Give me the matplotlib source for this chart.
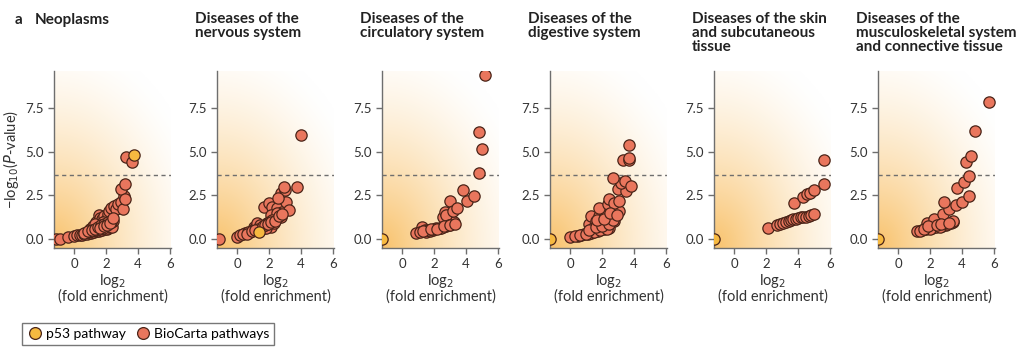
import numpy as np
import matplotlib
matplotlib.use('Agg')
import matplotlib.pyplot as plt
from matplotlib.lines import Line2D

plt.rcParams['font.family'] = ['Lato', 'DejaVu Sans']

# Panel titles
TITLES = ['Neoplasms',
          'Diseases of the\nnervous system',
          'Diseases of the\ncirculatory system',
          'Diseases of the\ndigestive system',
          'Diseases of the skin\nand subcutaneous\ntissue',
          'Diseases of the\nmusculoskeletal system\nand connective tissue']

# BioCarta pathways, log2(fold enrichment) and -log10(P) per panel
neo_x = [-1.1, -0.9, -0.35, 0.0, 0.2, 0.35, 0.5, 0.65, 0.8, 0.95, 1.05, 1.15, 1.25, 1.35,
         1.45, 1.55, 1.65, 1.75, 1.85, 1.95, 2.05, 2.15, 2.25, 2.35,
         1.0, 1.2, 1.4, 1.55, 1.6, 1.75, 1.9, 2.0, 2.1, 2.2, 2.3, 2.5, 2.6, 2.75, 2.9,
         3.05, 3.1, 2.95, 3.15, 3.25, 3.6, 3.2, 1.3, 1.8, 2.4,
         0.6, 0.9, 1.1, 1.3, 1.5, 1.7, 1.9, 2.1, 2.3, 1.6, 1.85, 2.05, 2.25, 2.45]
neo_y = [0.0, 0.02, 0.1, 0.15, 0.2, 0.22, 0.25, 0.28, 0.3, 0.33, 0.36, 0.38, 0.4, 0.43,
         0.45, 0.48, 0.5, 0.52, 0.55, 0.58, 0.6, 0.63, 0.66, 0.7,
         0.6, 0.75, 1.0, 1.4, 1.2, 1.15, 1.3, 1.1, 1.45, 1.6, 1.75, 1.9, 1.7, 2.0, 2.1,
         1.7, 2.45, 2.85, 3.15, 4.7, 4.4, 2.3, 0.85, 0.95, 1.05,
         0.35, 0.45, 0.5, 0.6, 0.7, 0.8, 0.85, 0.95, 1.0, 0.65, 0.75, 0.8, 0.9, 1.2]

nerv_x = [-1.15, 0.0, 0.21, 0.52, 0.84, 1.05, 1.15, 1.26, 1.46, 1.67, 1.88, 2.09, 2.3, 2.5,
          2.72, 1.67, 1.99, 2.2, 2.5, 2.82, 2.09, 2.5, 2.72, 2.99, 3.03, 3.24, 2.55, 2.93,
          3.77, 3.97, 0.4, 0.7, 1.3, 1.8, 2.0, 2.2,
          0.6, 0.95, 1.1, 1.6, 1.75, 1.95, 2.15, 2.35, 2.6, 2.8]
nerv_y = [0.0, 0.13, 0.23, 0.33, 0.42, 0.71, 0.61, 0.9, 0.8, 0.61, 0.9, 0.71, 0.9, 1.19,
          1.28, 1.85, 2.05, 1.85, 1.76, 1.57, 1.38, 1.5, 2.62, 2.8, 2.14, 1.66, 2.33, 3.0,
          2.98, 5.97, 0.28, 0.38, 0.55, 0.65, 0.95, 1.1,
          0.3, 0.45, 0.5, 0.75, 0.8, 0.85, 1.0, 1.05, 1.3, 1.45]

circ_x = [0.89, 1.26, 1.41, 1.51, 1.72, 1.93, 2.13, 2.34, 2.55, 2.75, 2.96, 3.17, 3.06,
          3.27, 2.55, 2.65, 2.75, 3.02, 3.17, 3.42, 3.79, 4.04, 4.51, 4.78, 4.99, 4.82, 5.18,
          1.1, 1.6, 2.0, 2.4, 2.9, 1.3, 1.8, 2.2, 2.6, 3.0, 3.3]
circ_y = [0.32, 0.67, 0.51, 0.42, 0.46, 0.51, 0.61, 0.61, 0.7, 0.76, 0.84, 0.9, 0.9,
          0.99, 1.28, 1.52, 1.37, 2.17, 1.6, 1.75, 2.84, 2.17, 2.46, 3.81, 5.18, 6.13, 9.43,
          0.42, 0.5, 0.55, 0.65, 0.8, 0.45, 0.55, 0.6, 0.72, 0.82, 0.88]

dig_x = [0.02, 0.48, 0.9, 1.31, 1.73, 2.15, 2.46, 1.21, 1.42, 1.94, 2.25, 1.31, 1.63, 1.83,
         2.15, 2.35, 2.56, 2.77, 2.04, 1.83, 2.56, 3.08, 2.35, 2.46, 2.77, 3.08, 2.98, 3.5,
         3.19, 3.4, 3.81, 2.67, 3.29, 3.65, 3.71, 3.65, 0.7, 1.1, 1.5, 1.9, 2.3,
         0.3, 0.6, 1.0, 1.2, 1.6, 2.0, 2.4, 2.7, 1.7, 2.1, 2.5, 2.9]
dig_y = [0.13, 0.17, 0.27, 0.36, 0.46, 0.55, 0.65, 0.84, 0.65, 0.88, 0.94, 1.32, 1.03, 1.32,
         1.22, 1.41, 1.22, 1.03, 1.7, 1.8, 1.8, 1.61, 1.99, 2.28, 2.08, 2.18, 2.85, 2.75,
         3.23, 3.33, 3.04, 3.52, 4.51, 4.51, 4.67, 5.39, 0.22, 0.31, 0.41, 0.5, 0.6,
         0.15, 0.2, 0.3, 0.5, 0.7, 0.75, 0.85, 1.1, 1.1, 1.15, 1.5, 1.4]

skin_x = [2.15, 2.67, 2.88, 3.08, 3.25, 3.4, 3.56, 3.71, 3.88, 4.02, 4.17, 4.33, 4.5,
          4.65, 4.79, 4.96, 3.77, 4.33, 4.54, 4.75, 5.0, 5.63, 5.63]
skin_y = [0.65, 0.8, 0.88, 0.94, 0.98, 1.03, 1.09, 1.13, 1.15, 1.19, 1.24, 1.26, 1.28,
          1.32, 1.36, 1.45, 2.05, 2.41, 2.6, 2.66, 2.79, 3.17, 4.55]

musc_x = [1.17, 1.52, 1.73, 1.94, 2.15, 2.35, 2.56, 2.77, 2.98, 3.08, 3.29, 3.4, 3.46,
          1.79, 2.25, 2.83, 3.19, 2.88, 3.6, 3.96, 4.4, 3.67, 4.13, 4.44, 4.27, 4.54, 4.81,
          5.69, 1.35, 2.0, 2.6, 1.6, 1.85, 2.45, 2.7, 3.2]
musc_y = [0.46, 0.5, 0.55, 0.61, 0.65, 0.69, 0.72, 0.76, 0.8, 0.84, 0.93, 0.97, 1.03,
          0.93, 1.12, 1.41, 1.7, 2.13, 1.94, 2.13, 2.46, 2.93, 3.28, 3.6, 4.4, 4.74, 6.23,
          7.85, 0.48, 0.58, 0.68, 0.6, 0.75, 0.8, 0.85, 0.9]

PATHWAYS_X = [neo_x, nerv_x, circ_x, dig_x, skin_x, musc_x]
PATHWAYS_Y = [neo_y, nerv_y, circ_y, dig_y, skin_y, musc_y]

# p53 pathway per panel
P53_X = [3.75, 1.36, -1.25, -1.25, -1.25, -1.25]
P53_Y = [4.83, 0.42, 0.0, 0.0, 0.0, 0.0]

THRESHOLD = 3.65

RED = '#E9765D'
YELLOW = '#F6B940'
EDGE = '#4A2418'
GREY = '#6E6E6E'

fig = plt.figure(figsize=(10.24, 3.6), dpi=100)

lefts_px = [54, 217, 382, 550, 714, 878]
XLIM = (-1.25, 6.05)
YLIM = (-0.52, 9.65)

# background gradient: orange in the lower left fading softly to white
gx, gy = np.meshgrid(np.linspace(0, 1, 200), np.linspace(0, 1, 200))
dist = np.sqrt((gx / 1.1) ** 2 + (gy / 1.0) ** 2) / 1.2
strength = np.clip(1 - dist, 0, 1) ** 1.5
c0 = np.array([1.0, 1.0, 1.0])
c1 = np.array([0.975, 0.76, 0.42])
grad = c0 + (c1 - c0) * strength[..., None]

for i in range(6):
    ax = fig.add_axes([lefts_px[i] / 1024, 1 - 248 / 360, 117 / 1024, 177 / 360])
    ax.imshow(grad, origin='lower', extent=[XLIM[0], XLIM[1], YLIM[0], YLIM[1]],
              aspect='auto', zorder=0)
    ax.axhline(THRESHOLD, color=GREY, lw=1, ls=(0, (3, 2.5)), zorder=1)
    ax.scatter(PATHWAYS_X[i], PATHWAYS_Y[i], s=66, color=RED, edgecolor=EDGE,
               linewidth=0.9, zorder=3)
    ax.scatter([P53_X[i]], [P53_Y[i]], s=66, color=YELLOW, edgecolor=EDGE,
               linewidth=0.9, zorder=4)
    ax.set_xlim(*XLIM)
    ax.set_ylim(*YLIM)
    ax.set_xticks([0, 2, 4, 6])
    ax.set_yticks([0.0, 2.5, 5.0, 7.5])
    ax.set_yticklabels(['0.0', '2.5', '5.0', '7.5'])
    for side in ['top', 'right']:
        ax.spines[side].set_visible(False)
    for side in ['left', 'bottom']:
        ax.spines[side].set_color(GREY)
        ax.spines[side].set_linewidth(1.0)
    ax.tick_params(colors=GREY, labelcolor='#333333', labelsize=9.5, length=4, width=1)
    ax.set_xlabel('log$_2$\n(fold enrichment)', fontsize=10.5, color='#333333',
                  labelpad=1, linespacing=0.95)
    if i == 0:
        ax.set_ylabel('−log$_{10}$($P$-value)', fontsize=10.5, color='#333333', labelpad=3)
        fig.text(15 / 1024, 1 - 24 / 360, 'a', fontsize=11, fontweight='bold',
                 color='#222222', va='baseline')
        fig.text(35 / 1024, 1 - 24 / 360, TITLES[i], fontsize=11, fontweight='bold',
                 color='#222222', va='baseline')
    else:
        fig.text((lefts_px[i] - 22) / 1024, 1 - 12 / 360, TITLES[i], fontsize=11,
                 fontweight='bold', color='#222222', va='top', linespacing=1.0)

handles = [Line2D([], [], ls='none', marker='o', ms=8.5, mfc=YELLOW, mec=EDGE, mew=0.9),
           Line2D([], [], ls='none', marker='o', ms=8.5, mfc=RED, mec=EDGE, mew=0.9)]
leg = fig.legend(handles, ['p53 pathway', 'BioCarta pathways'], loc='upper left',
                 bbox_to_anchor=(15 / 1024, 1 - 316 / 360), ncol=2, fontsize=10,
                 frameon=True, fancybox=False, handletextpad=0.2, columnspacing=0.6,
                 borderpad=0.35, handlelength=1.2)
leg.get_frame().set_edgecolor('#555555')
leg.get_frame().set_linewidth(1.0)

fig.savefig('out.png', dpi=100)
